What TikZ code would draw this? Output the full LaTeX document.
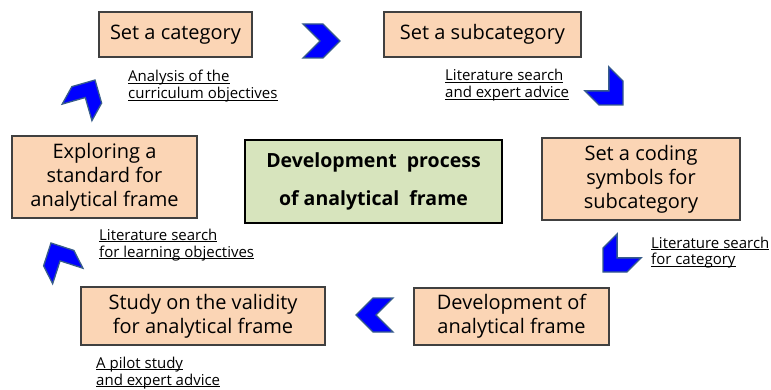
\documentclass[tikz,border=0pt]{standalone}
\usepackage{fontspec}
\setmainfont{Open Sans}
\definecolor{peach}{HTML}{FBD5B5}
\definecolor{sage}{HTML}{D7E4BD}
\definecolor{frame}{HTML}{404040}
\definecolor{chevblue}{HTML}{0000FF}
\definecolor{chevedge}{HTML}{385D8A}
\newcommand\uword[1]{\underline{\smash{#1}}}
\tikzset{
  stage/.style={draw=frame, fill=peach, line width=1.2pt, align=center,
    font=\fontsize{20}{24}\selectfont, inner sep=0pt},
  hub/.style={draw=black, fill=sage, line width=1.6pt, align=center,
    font=\fontsize{19.5}{38}\selectfont\bfseries, inner sep=0pt},
  % notes are anchored on the baseline of their last line
  note/.style={align=left, anchor=base west, inner sep=0pt,
    font=\fontsize{15}{17}\selectfont},
  chevron/.pic={
    \filldraw[fill=chevblue, draw=chevedge, line width=1.3pt, line join=miter]
      (-37,-17) -- (-17,-17) -- (0,0) -- (-17,17) -- (-37,17) -- (-20,0) -- cycle;
  }
}

\begin{document}
\begin{tikzpicture}[x=1pt,y=-1pt]
\useasboundingbox (0,0) rectangle (771,390);

% Six stages of the cycle, clockwise from the top left.
\node[stage, minimum width=153pt, minimum height=45pt] (category) at (175.5,34.5)
  {Set a category};
\node[stage, minimum width=197pt, minimum height=45pt] (subcategory) at (482.5,34.5)
  {Set a subcategory};
\node[stage, minimum width=198pt, minimum height=82pt] (coding) at (641,179)
  {Set a coding\\symbols for\\subcategory};
\node[stage, minimum width=195pt, minimum height=57pt] (development) at (511.5,316.5)
  {Development of\\analytical frame};
\node[stage, minimum width=244pt, minimum height=58pt] (validity) at (203,316)
  {Study on the validity\\for analytical frame};
\node[stage, minimum width=185pt, minimum height=82pt] (standard) at (104.5,177)
  {Exploring a\\standard for\\analytical frame};

% Central title.
\node[hub, minimum width=257pt, minimum height=83pt] (title) at (373.5,181.5)
  {Development\ \ process\\of analytical\ \ frame};

% Method notes under each step.
\node[note] (curriculum) at (128,99)
  {\uword{Analysis of the}\\\uword{curriculum objectives}};
\node[note] (expert) at (445,98)
  {\uword{Literature search}\\\uword{and expert advice}};
\node[note] (catsearch) at (651,265)
  {\uword{Literature search}\\\uword{for category}};
\node[note] (objectives) at (99,257)
  {\uword{Literature search}\\\uword{for learning objectives}};
\node[note] (pilot) at (96,385)
  {\uword{A pilot study}\\\uword{and expert advice}};

% Chevrons marking the direction of the cycle.
\pic at (340,41) {chevron};
\pic[rotate=-45] at (623,105) {chevron};
\pic[rotate=-135] at (603,272) {chevron};
\pic[rotate=180] at (356,315) {chevron};
\pic[rotate=117] at (51,243) {chevron};
\pic[rotate=61] at (95,80) {chevron};

\end{tikzpicture}
\end{document}
